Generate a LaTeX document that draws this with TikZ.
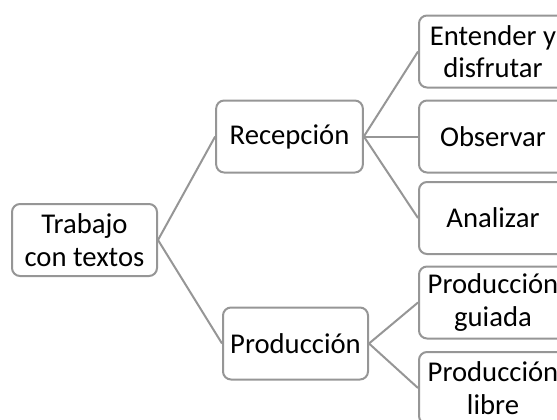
\documentclass[tikz,border=0pt]{standalone}
\usepackage{fontspec}
\setmainfont{Carlito}
\definecolor{boxgray}{RGB}{150,150,150}
\tikzset{
  box/.style={draw=boxgray, line width=1.5pt, rounded corners=6pt,
    fill=white, minimum height=54pt, inner sep=0pt, align=center,
    font=\fontsize{21.5}{24.5}\selectfont},
  link/.style={draw=boxgray, line width=1.5pt}
}
\begin{document}
\begin{tikzpicture}[x=0.75pt, y=-0.75pt]
  \clip (0, 0) rectangle (557, 419);

  % Root
  \node [box, minimum width=108.75pt] (trabajo) at (84.5, 240) {Trabajo\\con textos};

  % Second level
  \node [box, minimum width=110pt] (recepcion) at (289.5, 136.5) {Recepción};
  \node [box, minimum width=108.75pt] (produccion) at (295.5, 343.5) {Producción};

  % Leaves
  \node [box, minimum width=111pt] (entender) at (493, 51.5) {Entender y\\disfrutar};
  \node [box, minimum width=111pt] (observar) at (493, 136.5) {Observar};
  \node [box, minimum width=111pt] (analizar) at (493, 218) {Analizar};
  \node [box, minimum width=111pt] (guiada) at (493, 302.5) {Producción\\guiada};
  \node [box, minimum width=111pt] (libre) at (493, 388) {Producción\\libre};

  % Edges
  \draw [link] (trabajo.east) -- (recepcion.west);
  \draw [link] (trabajo.east) -- (produccion.west);
  \draw [link] (recepcion.east) -- (entender.west);
  \draw [link] (recepcion.east) -- (observar.west);
  \draw [link] (recepcion.east) -- (analizar.west);
  \draw [link] (produccion.east) -- (guiada.west);
  \draw [link] (produccion.east) -- (libre.west);
\end{tikzpicture}
\end{document}
